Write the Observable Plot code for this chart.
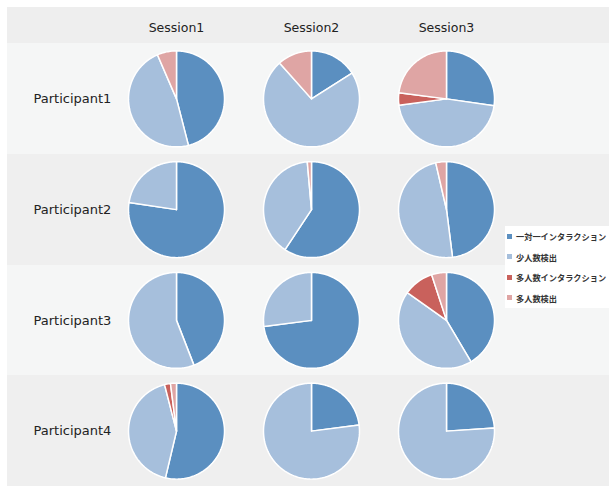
<!DOCTYPE html>
<html><head><meta charset="utf-8">
<script src="https://cdn.jsdelivr.net/npm/d3@7"></script>
<script src="https://cdn.jsdelivr.net/npm/@observablehq/plot@0.6"></script>
<style>
body{margin:0;background:#fff;}
#wrap{position:relative;width:609px;height:486px;overflow:hidden;}
.stripe{position:absolute;left:7px;right:0;}
#chart{position:absolute;left:0;top:0;}
#legend{position:absolute;left:505px;top:226px;width:104px;height:82px;background:#fff;overflow:visible;}
#legend > div{margin:0 !important;min-height:0 !important;columns:auto !important;width:104px;}
#legend > div > div{height:20.5px;padding:0 !important;display:flex;align-items:center;white-space:nowrap;}
#legend > div > div *{overflow:visible !important;text-overflow:clip !important;white-space:nowrap;}
#legend svg{margin-right:4px !important;margin-left:2px;flex:none;}
</style></head><body><div id="wrap"></div>
<script>
const sessions = ["Session1", "Session2", "Session3"];
const participants = ["Participant1", "Participant2", "Participant3", "Participant4"];
const categories = ["一対一インタラクション", "少人数検出", "多人数インタラクション", "多人数検出"];
const colors = ["#5b8fc0", "#a6bfdc", "#c9615c", "#dfa5a4"];

// shares per session: [一対一インタラクション, 少人数検出, 多人数インタラクション, 多人数検出]
const participant1 = [[46, 47.5, 0, 6.5], [16, 72.4, 0, 11.6], [27.3, 45.6, 4.1, 23]];
const participant2 = [[77.4, 22.6, 0, 0], [59.3, 39.3, 0, 1.4], [48, 48.4, 0, 3.6]];
const participant3 = [[44.1, 55.9, 0, 0], [73, 27, 0, 0], [41.5, 43.3, 10.2, 5]];
const participant4 = [[53.7, 42.3, 2, 2], [23, 77, 0, 0], [24, 76, 0, 0]];

const W = 609, H = 486, mt = 43, ml = 108.5, mr = 95.5;
const rowH = (H - mt) / participants.length;
const colW = (W - ml - mr) / sessions.length;
const R = 48;

const wrap = document.getElementById("wrap");
// background stripes
const hdr = document.createElement("div");
hdr.className = "stripe";
hdr.style.top = "7px"; hdr.style.height = (mt - 7) + "px"; hdr.style.background = "#eeeeee";
wrap.appendChild(hdr);
participants.forEach((p, i) => {
  const d = document.createElement("div");
  d.className = "stripe";
  d.style.top = (mt + i * rowH) + "px";
  d.style.height = rowH + "px";
  d.style.background = i % 2 === 0 ? "#f5f6f6" : "#efefef";
  wrap.appendChild(d);
});

const values = [participant1, participant2, participant3, participant4];
const rows = [];
participants.forEach((p, i) => sessions.forEach((s, j) => {
  const arcs = d3.pie().sort(null).value(d => d)(values[i][j]);
  arcs.forEach((a, k) => {
    const span = a.endAngle - a.startAngle;
    if (span <= 0) return;
    const c = categories[k];
    const n = Math.max(2, Math.ceil(span / (Math.PI / 120)));
    rows.push({p, s, c, x: 0, y: 0});
    for (let t = 0; t <= n; t++) {
      const ang = a.startAngle + span * t / n;
      rows.push({p, s, c, x: Math.sin(ang), y: Math.cos(ang)});
    }
    rows.push({p, s, c, x: 0, y: 0});
  });
}));

const plot = Plot.plot({
  width: W, height: H,
  marginTop: mt, marginBottom: 0, marginLeft: ml, marginRight: mr,
  style: {background: "transparent", fontFamily: "DejaVu Sans", fontSize: "12.5px", color: "#222"},
  fx: {domain: sessions, padding: 0, round: false, axis: "top", label: null, tickSize: 0, tickPadding: 12},
  fy: {domain: participants, padding: 0, round: false, axis: null},
  x: {domain: [-colW / 2 / R, colW / 2 / R], axis: null},
  y: {domain: [-rowH / 2 / R, rowH / 2 / R], axis: null},
  color: {domain: categories, range: colors},
  marks: [
    Plot.line(rows, {x: "x", y: "y", z: "c", fill: "c", stroke: "white", strokeWidth: 1.5, strokeLinejoin: "round", fx: "s", fy: "p"}),
    Plot.text(participants, {fy: d => d, fx: () => "Session1", text: d => d, frameAnchor: "left", textAnchor: "start", dx: 33 - ml, fontSize: 13, fill: "#222"})
  ]
});
plot.id = "chart";
wrap.appendChild(plot);

const legendBox = document.createElement("div");
legendBox.id = "legend";
legendBox.appendChild(plot.legend("color", {
  legend: "swatches", columns: 1, swatchSize: 5,
  style: {fontFamily: "'Noto Sans CJK JP'", fontSize: "8.2px", fontWeight: "bold", color: "#333"}
}));
wrap.appendChild(legendBox);
</script>
</body></html>
